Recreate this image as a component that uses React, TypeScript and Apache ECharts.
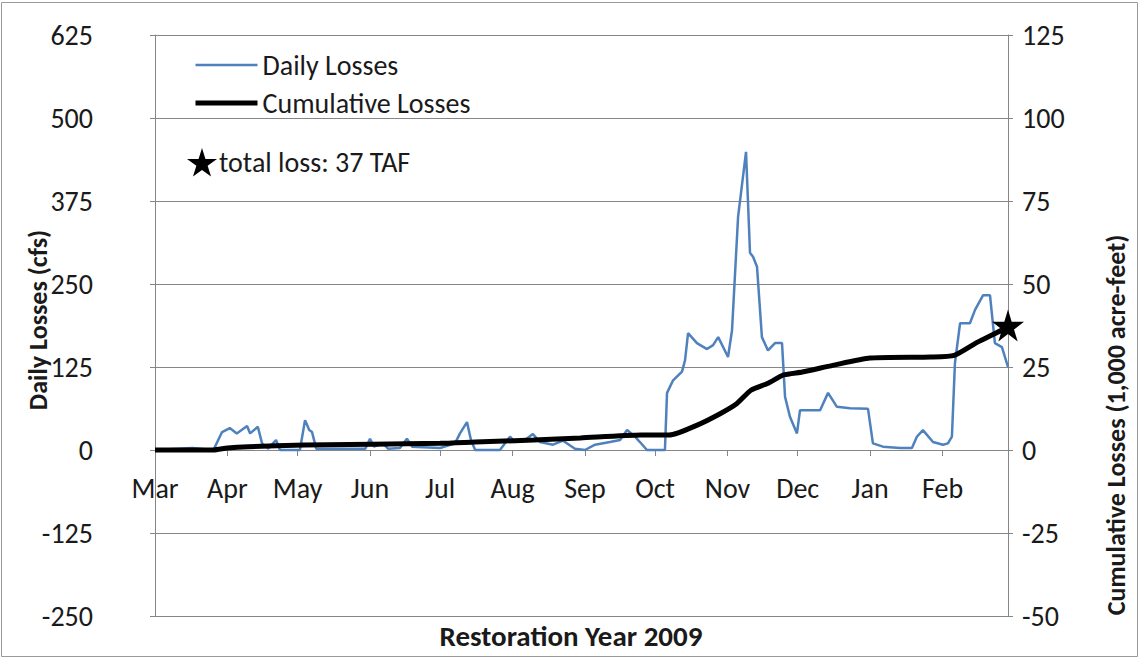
import React, { useEffect, useRef } from "react";
import * as echarts from "echarts";

const months = ["Mar", "Apr", "May", "Jun", "Jul", "Aug", "Sep", "Oct", "Nov", "Dec", "Jan", "Feb"];
const monthStartDays = [0, 31, 61, 92, 122, 153, 184, 214, 245, 275, 306, 337];
const yearEndDay = 365;

// Daily losses (cfs), day index from 1 Mar 2009
const dailyDays = [
  0, 16, 25, 28.7, 32, 35, 39.4, 40.7, 44, 45.8, 48.4, 51.8, 53.5, 62, 64.2, 66, 67.2, 69, 90, 92, 93.7,
  97.6, 99.7, 104.8, 107.8, 110, 122, 128.4, 130.5, 133.5, 135.2, 137, 147.6, 151.9, 154, 158.3, 161.7,
  164.7, 170.3, 174.6, 179.7, 184, 188.3, 194.7, 199, 202, 205.4, 207.5, 210.5, 218.2, 219.1, 221.7,
  225.5, 226.8, 228.1, 231.9, 236.2, 238.8, 241, 245.2, 246.9, 249.5, 252.9, 254.6, 255.9, 257.6, 259.7,
  262.3, 265.3, 268.3, 269.6, 271.7, 274.7, 276, 284.6, 288, 291.8, 297.4, 305.1, 307.2, 311.5, 318.8,
  323.9, 326, 328.6, 332.9, 337.2, 339.3, 341, 342.3, 344.5, 348.7, 350.9, 354.3, 357.3, 359.4, 362.4, 365,
];
const dailyValues = [
  0, 3, 0, 27, 33, 25, 36, 25, 35, 10, 2, 15, 0, 0, 45, 30, 27, 2, 2, 17, 5,
  10, 2, 3, 17, 5, 3, 10, 25, 42, 15, 0, 0, 20, 12, 15, 24,
  12, 8, 14, 2, 0, 8, 12, 15, 30, 20, 12, 0, 0, 86, 105,
  118, 135, 176, 161, 152, 158, 170, 140, 180, 351, 449, 297, 291, 276, 170,
  150, 161, 161, 80, 50, 25, 60, 60, 86, 65, 63, 62, 10, 5, 3,
  3, 20, 30, 12, 8, 10, 20, 131, 191, 191, 211, 233, 233, 161, 155, 125,
];

// Cumulative losses (1,000 acre-feet)
const cumDays = [0, 25, 31, 40, 64, 122, 137, 162, 182, 208, 220, 232, 242, 249, 255, 262, 269, 277, 290, 306, 332, 342, 352, 362, 365];
const cumValues = [0, 0, 0.6, 1, 1.5, 2, 2.4, 3, 3.6, 4.5, 4.5, 7.5, 11, 14, 18, 20, 22.6, 23.5, 25.5, 27.7, 28, 28.5, 32.5, 36, 37.5];

const totalLossLabel = "total loss: 37 TAF";
const totalLossPoint = [365, 37.5];

const leftTicks = { min: -250, max: 625, interval: 125 };
const rightTicks = { min: -50, max: 125, interval: 25 };

const FONT = 'Carlito, "Open Sans", sans-serif';
const STAR = "path://M50,0 L61,35 L98,35 L68,57 L79,91 L50,70 L21,91 L32,57 L2,35 L39,35 Z";

export default function App() {
  const ref = useRef<HTMLDivElement>(null);
  useEffect(() => {
    if (!ref.current) return;
    const chart = echarts.init(ref.current, null, { renderer: "svg" });
    const daily = dailyDays.map((d, i) => [d, dailyValues[i]]);
    const cum = cumDays.map((d, i) => [d, cumValues[i]]);
    const gridColor = "#868686";
    const textColor = "#1a1a1a";
    const gridTop = 35;
    const gridBottom = 43;
    const plotH = 659 - gridTop - gridBottom;
    // distance from the bottom of the plot to the zero line of the left axis
    const zeroOffset = (plotH * (0 - leftTicks.min)) / (leftTicks.max - leftTicks.min);
    chart.setOption({
      animation: false,
      backgroundColor: "#ffffff",
      textStyle: { fontFamily: FONT },
      grid: { left: 155, right: 132, top: gridTop, bottom: gridBottom, containLabel: false },
      legend: [
        {
          orient: "vertical",
          left: 188,
          top: 46,
          itemWidth: 62,
          itemHeight: 14,
          itemGap: 10,
          data: [
            { name: "Daily Losses", lineStyle: { width: 2.5, color: "#4F81BD" } },
            { name: "Cumulative Losses", lineStyle: { width: 5, color: "#000000" } },
          ],
          itemStyle: { opacity: 0 },
          textStyle: { fontSize: 28, color: textColor, fontFamily: FONT, lineHeight: 28 },
        },
        {
          left: 182,
          top: 143,
          itemWidth: 30,
          itemHeight: 30,
          itemGap: 0,
          data: [totalLossLabel],
          textStyle: { fontSize: 28, color: textColor, fontFamily: FONT, lineHeight: 28, padding: [0, 0, 0, -3] },
        },
      ],
      xAxis: {
        type: "value",
        min: 0,
        max: yearEndDay,
        position: "bottom",
        offset: -zeroOffset,
        axisLine: { onZero: false, lineStyle: { color: gridColor, width: 1 } },
        axisTick: { show: true, customValues: monthStartDays.concat([yearEndDay]), length: 6, lineStyle: { color: gridColor } },
        axisLabel: {
          customValues: monthStartDays,
          formatter: (v: number) => months[monthStartDays.indexOf(Math.round(v))] ?? "",
          fontSize: 28,
          color: textColor,
          margin: 24,
          fontFamily: FONT,
        },
        splitLine: { show: false },
      },
      yAxis: [
        {
          type: "value",
          position: "left",
          min: leftTicks.min,
          max: leftTicks.max,
          interval: leftTicks.interval,
          axisLine: { show: true, onZero: false, lineStyle: { color: gridColor } },
          axisTick: { show: true, length: 5, lineStyle: { color: gridColor } },
          axisLabel: { fontSize: 28, color: textColor, margin: 62, fontFamily: FONT },
          splitLine: { show: true, lineStyle: { color: gridColor, width: 1 } },
        },
        {
          type: "value",
          position: "right",
          min: rightTicks.min,
          max: rightTicks.max,
          interval: rightTicks.interval,
          axisLine: { show: true, onZero: false, lineStyle: { color: gridColor } },
          axisTick: { show: true, length: 5, lineStyle: { color: gridColor } },
          axisLabel: { fontSize: 28, color: textColor, margin: 14, fontFamily: FONT },
          splitLine: { show: false },
        },
      ],
      series: [
        {
          name: "Daily Losses",
          type: "line",
          yAxisIndex: 0,
          data: daily,
          symbol: "none",
          showSymbol: false,
          lineStyle: { color: "#4F81BD", width: 2.5 },
          itemStyle: { color: "#4F81BD" },
          z: 3,
        },
        {
          name: "Cumulative Losses",
          type: "line",
          yAxisIndex: 1,
          data: cum,
          symbol: "none",
          showSymbol: false,
          smooth: 0.2,
          lineStyle: { color: "#000000", width: 5 },
          itemStyle: { color: "#000000" },
          z: 4,
        },
        {
          name: totalLossLabel,
          type: "scatter",
          yAxisIndex: 1,
          data: [totalLossPoint],
          symbol: STAR,
          symbolSize: 32,
          itemStyle: { color: "#000000", opacity: 1 },
          z: 5,
        },
      ],
      graphic: [
        {
          type: "rect",
          shape: { x: 1.5, y: 2.5, width: 1136, height: 654 },
          style: { fill: "none", stroke: "#9a9a9a", lineWidth: 1 },
          silent: true,
        },
        {
          type: "text",
          x: 38,
          y: 320,
          rotation: Math.PI / 2,
          style: {
            text: "Daily Losses (cfs)",
            font: `bold 26px ${FONT}`,
            fill: textColor,
            align: "center",
            verticalAlign: "middle",
          },
        },
        {
          type: "text",
          x: 1116,
          y: 425,
          rotation: Math.PI / 2,
          style: {
            text: "Cumulative Losses (1,000 acre-feet)",
            font: `bold 26px ${FONT}`,
            fill: textColor,
            align: "center",
            verticalAlign: "middle",
          },
        },
        {
          type: "text",
          x: 571,
          y: 636,
          style: {
            text: "Restoration Year 2009",
            font: `bold 29px ${FONT}`,
            fill: textColor,
            align: "center",
            verticalAlign: "middle",
          },
        },
      ],
    });
    return () => chart.dispose();
  }, []);
  return <div ref={ref} style={{ position: "fixed", left: 0, top: 0, width: 1140, height: 659 }} />;
}
